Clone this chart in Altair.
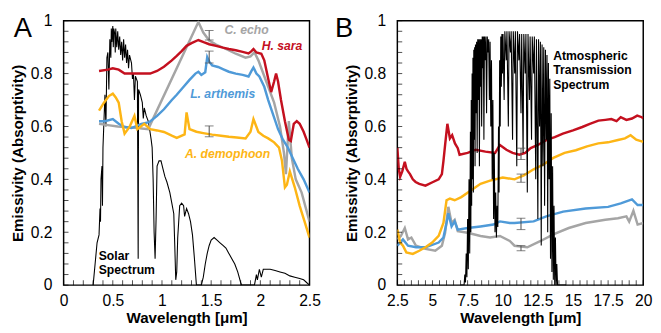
import altair as alt
import pandas as pd

# ---------------- Panel A (0 - 2.5 um) ----------------
solar_lam = [0.30, 0.32, 0.34, 0.36, 0.37, 0.375, 0.38, 0.39, 0.395, 0.40, 0.42, 0.43, 0.44, 0.45,
             0.46, 0.47, 0.48, 0.485, 0.49, 0.50, 0.505, 0.51, 0.52, 0.525, 0.53, 0.54, 0.55,
             0.56, 0.57, 0.58, 0.59, 0.60, 0.61, 0.62, 0.63, 0.64, 0.65, 0.66, 0.67, 0.69, 0.70,
             0.71, 0.72, 0.73, 0.75, 0.758, 0.762, 0.78, 0.80, 0.81, 0.82, 0.84, 0.86, 0.87,
             0.89, 0.90, 0.91, 0.92, 0.93, 0.94, 0.95, 0.97, 0.99, 1.01, 1.03, 1.05, 1.08, 1.10,
             1.12, 1.13, 1.14, 1.15, 1.16, 1.17, 1.18, 1.20, 1.22, 1.23, 1.25, 1.27, 1.29, 1.31,
             1.33, 1.35, 1.40, 1.42, 1.44, 1.46, 1.48, 1.50, 1.53, 1.56, 1.59, 1.62, 1.65, 1.68,
             1.71, 1.74, 1.77, 1.80, 1.81, 1.94, 1.96, 1.97, 1.99, 2.01, 2.03, 2.06, 2.10, 2.15,
             2.20, 2.25, 2.30, 2.35, 2.40, 2.44, 2.47, 2.50]
solar_val = [0.00, 0.08, 0.16, 0.19, 0.29, 0.24, 0.40, 0.45, 0.30, 0.52, 0.72, 0.60, 0.86, 0.88,
             0.74, 0.93, 0.86, 0.97, 0.92, 0.98, 0.90, 0.97, 0.95, 0.88, 0.97, 0.90, 0.96,
             0.89, 0.94, 0.87, 0.92, 0.85, 0.93, 0.86, 0.91, 0.84, 0.89, 0.82, 0.87, 0.84, 0.78,
             0.80, 0.70, 0.79, 0.77, 0.10, 0.74, 0.72, 0.69, 0.63, 0.67, 0.64, 0.62, 0.60,
             0.55, 0.52, 0.40, 0.20, 0.10, 0.25, 0.45, 0.47, 0.47, 0.44, 0.41, 0.39, 0.35, 0.31,
             0.27, 0.15, 0.02, 0.05, 0.18, 0.24, 0.30, 0.31, 0.30, 0.26, 0.29, 0.27, 0.24, 0.19,
             0.10, 0.00, 0.00, 0.03, 0.08, 0.12, 0.15, 0.17, 0.18, 0.17, 0.16, 0.15, 0.14, 0.12,
             0.10, 0.08, 0.05, 0.01, 0.00, 0.00, 0.04, 0.02, 0.06, 0.03, 0.06, 0.06, 0.06, 0.055,
             0.05, 0.045, 0.035, 0.03, 0.025, 0.02, 0.01, 0.00]

echo_lam_a = [0.36, 0.45, 0.55, 0.65, 0.75, 0.86, 1.37, 1.42, 1.48, 1.55, 1.65, 1.75, 1.85, 1.90,
              1.94, 1.98, 2.06, 2.14, 2.20, 2.24, 2.26, 2.29, 2.32, 2.36, 2.42, 2.50]
echo_val_a = [0.61, 0.605, 0.60, 0.597, 0.594, 0.59, 0.995, 0.955, 0.925, 0.91, 0.893, 0.875, 0.86,
              0.865, 0.88, 0.85, 0.77, 0.69, 0.60, 0.50, 0.42, 0.62, 0.48, 0.40, 0.35, 0.24]

sara_lam_a = [0.36, 0.45, 0.50, 0.56, 0.62, 0.70, 0.78, 0.88, 0.95, 1.02, 1.10, 1.15, 1.20, 1.25,
              1.30, 1.37, 1.43, 1.48, 1.55, 1.62, 1.68, 1.75, 1.82, 1.88, 1.91, 1.93, 1.96, 2.01,
              2.04, 2.08, 2.11, 2.14, 2.16, 2.18, 2.21, 2.25, 2.29, 2.31, 2.34, 2.37, 2.40, 2.44,
              2.47, 2.50]
sara_val_a = [0.81, 0.815, 0.82, 0.815, 0.80, 0.80, 0.80, 0.80, 0.81, 0.826, 0.85, 0.867, 0.885,
              0.905, 0.915, 0.927, 0.918, 0.911, 0.905, 0.898, 0.893, 0.888, 0.882, 0.876, 0.885,
              0.893, 0.88, 0.875, 0.85, 0.78, 0.73, 0.77, 0.80, 0.77, 0.70, 0.62, 0.55, 0.545,
              0.61, 0.62, 0.61, 0.58, 0.55, 0.52]

arth_lam_a = [0.36, 0.42, 0.50, 0.56, 0.62, 0.69, 0.79, 0.87, 0.95, 1.02, 1.10, 1.15, 1.22, 1.28,
              1.34, 1.37, 1.40, 1.44, 1.46, 1.48, 1.51, 1.57, 1.63, 1.68, 1.75, 1.82, 1.88, 1.91,
              1.93, 1.96, 1.99, 2.04, 2.08, 2.13, 2.18, 2.23, 2.28, 2.33, 2.38, 2.44, 2.50]
arth_val_a = [0.62, 0.62, 0.628, 0.61, 0.598, 0.594, 0.61, 0.616, 0.64, 0.665, 0.70, 0.72, 0.75,
              0.776, 0.80, 0.807, 0.795, 0.805, 0.862, 0.845, 0.831, 0.825, 0.815, 0.807, 0.80,
              0.795, 0.789, 0.81, 0.823, 0.80, 0.789, 0.75, 0.70, 0.645, 0.59, 0.55, 0.52, 0.48,
              0.44, 0.40, 0.35]

demo_lam_a = [0.36, 0.41, 0.46, 0.50, 0.53, 0.56, 0.59, 0.62, 0.67, 0.72, 0.75, 0.82, 0.88, 0.95,
              1.02, 1.10, 1.15, 1.23, 1.25, 1.28, 1.35, 1.42, 1.51, 1.60, 1.68, 1.76, 1.85, 1.90,
              1.93, 1.98, 2.03, 2.08, 2.14, 2.19, 2.22, 2.25, 2.27, 2.30, 2.35, 2.40, 2.45, 2.50]
demo_val_a = [0.66, 0.69, 0.715, 0.724, 0.71, 0.69, 0.62, 0.573, 0.598, 0.64, 0.59, 0.61, 0.59,
              0.585, 0.579, 0.565, 0.557, 0.57, 0.653, 0.59, 0.58, 0.575, 0.569, 0.565, 0.561,
              0.558, 0.555, 0.58, 0.628, 0.579, 0.565, 0.555, 0.54, 0.52, 0.47, 0.37, 0.38, 0.43,
              0.37, 0.30, 0.24, 0.18]

bar_lam_a = [1.48, 1.48, 1.48]
bar_lo_a = [0.927, 0.84, 0.561]
bar_hi_a = [0.963, 0.885, 0.602]

# ---------------- Panel B (2.5 - 20 um) ----------------
atm_lam = [7.00, 7.25, 7.30, 7.35, 7.40, 7.45, 7.50, 7.55, 7.60, 7.65, 7.70, 7.73, 7.76, 7.79,
           7.82, 7.85, 7.88, 7.91, 7.94, 7.97, 8.00, 8.03, 8.06, 8.10, 8.14, 8.18, 8.22, 8.26,
           8.30, 8.34, 8.38, 8.42, 8.46, 8.50, 8.54, 8.58, 8.62, 8.66, 8.70, 8.75, 8.80, 8.85,
           8.90, 8.95, 9.00, 9.05, 9.10, 9.15, 9.20, 9.25, 9.30, 9.35, 9.40, 9.45, 9.50, 9.55,
           9.60, 9.65, 9.70, 9.74, 9.78, 9.82, 9.86, 9.90, 9.94, 9.98, 10.02, 10.10, 10.15,
           10.25, 10.30, 10.40, 10.45, 10.55, 10.60, 10.70, 10.75, 10.85, 10.90, 11.00, 11.05,
           11.15, 11.20, 11.30, 11.35, 11.45, 11.50, 11.60, 11.65, 11.75, 11.80, 11.90, 11.95,
           12.05, 12.10, 12.20, 12.25, 12.35, 12.40, 12.50, 12.55, 12.62, 12.68, 12.74, 12.80,
           12.86, 12.92, 12.98, 13.04, 13.10, 13.15, 13.20, 13.25, 13.30, 13.35, 13.40, 13.45,
           13.50, 13.55, 13.60, 13.65, 13.70, 13.75, 13.80, 13.85, 13.90, 14.50]
atm_val = [0.00, 0.00, 0.04, 0.01, 0.12, 0.03, 0.25, 0.06, 0.40, 0.12, 0.58, 0.20, 0.70, 0.30,
           0.80, 0.40, 0.86, 0.35, 0.89, 0.55, 0.90, 0.45, 0.91, 0.65, 0.92, 0.50, 0.93, 0.70,
           0.93, 0.45, 0.93, 0.75, 0.93, 0.60, 0.94, 0.82, 0.94, 0.55, 0.94, 0.85, 0.94, 0.65,
           0.94, 0.88, 0.93, 0.70, 0.92, 0.60, 0.85, 0.40, 0.70, 0.25, 0.50, 0.20, 0.35, 0.18,
           0.30, 0.22, 0.60, 0.35, 0.85, 0.60, 0.94, 0.75, 0.95, 0.80, 0.95, 0.70, 0.96,
           0.85, 0.96, 0.60, 0.96, 0.88, 0.96, 0.55, 0.96, 0.80, 0.96, 0.45, 0.96,
           0.85, 0.95, 0.65, 0.95, 0.50, 0.95, 0.80, 0.95, 0.35, 0.95, 0.70, 0.94,
           0.55, 0.94, 0.80, 0.94, 0.40, 0.93, 0.25, 0.93, 0.60, 0.92, 0.15, 0.91,
           0.45, 0.90, 0.30, 0.89, 0.55, 0.87, 0.20, 0.84, 0.40, 0.78, 0.10, 0.65,
           0.05, 0.45, 0.02, 0.30, 0.00, 0.18, 0.00, 0.08, 0.00, 0.00]

sara_lam_b = [2.5, 2.6, 2.7, 2.85, 3.03, 3.15, 3.26, 3.4, 3.6, 3.8, 4.06, 4.5, 5.0, 5.44, 5.67,
              5.78, 5.9, 6.06, 6.24, 6.4, 6.6, 6.8, 6.93, 7.5, 8.08, 8.77, 9.46, 9.8, 10.26, 10.7,
              11.18, 11.6, 11.99, 12.5, 13.13, 13.7, 14.28, 15.0, 15.66, 16.2, 16.81, 17.3, 17.73,
              18.1, 18.4, 18.8, 19.2, 19.57, 19.9, 20.0]
sara_val_b = [0.52, 0.44, 0.41, 0.43, 0.466, 0.44, 0.43, 0.42, 0.40, 0.39, 0.383, 0.376, 0.389,
              0.40, 0.42, 0.469, 0.53, 0.61, 0.555, 0.567, 0.536, 0.518, 0.493, 0.50, 0.512, 0.505,
              0.50, 0.53, 0.512, 0.50, 0.493, 0.50, 0.518, 0.53, 0.549, 0.56, 0.573, 0.585, 0.598,
              0.61, 0.622, 0.625, 0.628, 0.62, 0.635, 0.625, 0.63, 0.641, 0.635, 0.63]

demo_lam_b = [2.5, 2.7, 2.9, 3.14, 3.6, 4.06, 4.5, 4.98, 5.44, 5.78, 6.0, 6.24, 6.58, 7.05, 7.73,
              8.42, 9.1, 10.0, 10.84, 11.5, 12.2, 12.9, 13.6, 14.4, 15.2, 16.0, 16.8, 17.5, 18.2,
              18.7, 19.1, 19.5, 20.0]
demo_val_b = [0.21, 0.161, 0.149, 0.124, 0.118, 0.13, 0.143, 0.161, 0.186, 0.235, 0.321, 0.327,
              0.321, 0.333, 0.358, 0.383, 0.395, 0.407, 0.40, 0.415, 0.438, 0.456, 0.481, 0.50,
              0.51, 0.525, 0.536, 0.54, 0.549, 0.555, 0.567, 0.55, 0.542]

arth_lam_b = [2.5, 2.9, 3.26, 3.83, 4.5, 5.44, 5.78, 6.0, 6.13, 6.36, 6.58, 6.8, 7.5, 8.42, 9.34,
              9.8, 10.5, 10.84, 12.2, 13.1, 14.3, 15.9, 17.5, 18.4, 19.2, 19.6, 20.0]
arth_val_b = [0.149, 0.173, 0.149, 0.143, 0.143, 0.161, 0.18, 0.235, 0.272, 0.222, 0.241, 0.21,
              0.216, 0.222, 0.229, 0.241, 0.235, 0.235, 0.241, 0.26, 0.278, 0.29, 0.296, 0.309,
              0.324, 0.303, 0.303]

echo_lam_b = [2.5, 2.75, 3.03, 3.26, 3.5, 3.83, 4.5, 5.2, 5.67, 5.9, 6.13, 6.36, 6.58, 6.8, 7.5,
              8.42, 9.1, 9.8, 10.5, 10.84, 11.75, 12.7, 13.6, 14.7, 15.9, 17.3, 18.2, 18.8, 19.0,
              19.3, 19.6, 20.0]
echo_val_b = [0.173, 0.186, 0.216, 0.173, 0.18, 0.149, 0.137, 0.13, 0.149, 0.198, 0.296, 0.235,
              0.247, 0.204, 0.198, 0.186, 0.18, 0.186, 0.167, 0.149, 0.143, 0.167, 0.192, 0.216,
              0.235, 0.247, 0.253, 0.26, 0.24, 0.281, 0.229, 0.235]

bar_lam_b = [11.3, 11.3, 11.3, 11.3]
bar_lo_b = [0.475, 0.389, 0.21, 0.13]
bar_hi_b = [0.518, 0.42, 0.253, 0.149]

# axis ticks / labels
y_ticks = [round(i * 0.04, 2) for i in range(26)]
y_labels = [0, 0.2, 0.4, 0.6, 0.8, 1]
xa_ticks = [round(i * 0.1, 1) for i in range(26)]
xa_labels = [0, 0.5, 1, 1.5, 2, 2.5]
xb_ticks = [round(2.5 + i * 0.5, 1) for i in range(36)]
xb_labels = [2.5, 5, 7.5, 10, 12.5, 15, 17.5, 20]

FONT = "Liberation Sans"
RED, BLUE, YEL, GRAY = "#c4101f", "#4f9ad8", "#fdb515", "#a5a5a5"
H = 271
TICK_COLOR = "black"
TICK_LEN = 5


def x_axis(labels):
    return alt.Axis(values=labels, labelExpr="format(datum.value, '')", ticks=False, tickSize=0,
                    domain=False, grid=False, labelPadding=8, labelFontSize=16, labelFont=FONT,
                    labelColor="black", labelFlush=False, labelOverlap=False,
                    title="Wavelength [μm]", titleFont=FONT, titleFontSize=15.5,
                    titleFontWeight="bold", titleColor="black", titlePadding=2)


def y_axis():
    return alt.Axis(values=y_labels, labelExpr="format(datum.value, '')", ticks=False, tickSize=0,
                    domain=False, grid=False, labelPadding=12, labelFontSize=16, labelFont=FONT,
                    labelColor="black", labelFlush=False, labelOverlap=False,
                    title="Emissivity (Absorptivity)", titleFont=FONT, titleFontSize=15.5,
                    titleFontWeight="bold", titleColor="black", titlePadding=5)


def panel(xdom, xticks, xlabels, curves, black, black_top, bars, texts, letter, letter_x, width):
    xs = alt.Scale(domain=xdom, nice=False, zero=False)
    ys = alt.Scale(domain=[0, 1], nice=False, zero=False)
    xax = x_axis(xlabels)
    yax = y_axis()

    def X(f):
        return alt.X(f"{f}:Q", scale=xs, axis=xax)

    def Y(f):
        return alt.Y(f"{f}:Q", scale=ys, axis=yax)

    def line(lam, val, color, w):
        df = pd.DataFrame({"lam": lam, "v": val, "i": list(range(len(lam)))})
        return alt.Chart(df).mark_line(color=color, strokeWidth=w, clip=True).encode(
            x=X("lam"), y=Y("v"), order="i:Q")

    colored = [line(l, v, c, 2.5) for (l, v, c) in curves]
    blk = line(black[0], black[1], "black", 1.1)
    layers = colored + [blk] if black_top else [blk] + colored

    bdf = pd.DataFrame({"lam": bars[0], "lo": bars[1], "hi": bars[2]})
    rule = alt.Chart(bdf).mark_rule(color="#4a4a4a", strokeWidth=1).encode(
        x=X("lam"), y=Y("lo"), y2="hi:Q")
    cap_lo = alt.Chart(bdf).mark_tick(color="#4a4a4a", orient="horizontal", size=9,
                                      thickness=1).encode(x=X("lam"), y=Y("lo"))
    cap_hi = alt.Chart(bdf).mark_tick(color="#4a4a4a", orient="horizontal", size=9,
                                      thickness=1).encode(x=X("lam"), y=Y("hi"))
    layers += [rule, cap_lo, cap_hi]

    # inward tick marks along the bottom and left edges of the frame
    xt = pd.DataFrame({"lam": xticks})
    layers.append(alt.Chart(xt).mark_tick(color=TICK_COLOR, orient="vertical", size=TICK_LEN,
                                          thickness=1).encode(
        x=X("lam"), y=alt.value(H - TICK_LEN / 2)))
    yt = pd.DataFrame({"v": y_ticks})
    layers.append(alt.Chart(yt).mark_tick(color=TICK_COLOR, orient="horizontal", size=TICK_LEN,
                                          thickness=1).encode(
        y=Y("v"), x=alt.value(TICK_LEN / 2)))

    for (tlam, tv, txt, color, style, align) in texts:
        tdf = pd.DataFrame({"lam": [tlam], "v": [tv], "t": [txt]})
        layers.append(alt.Chart(tdf).mark_text(font=FONT, fontSize=12.5, fontWeight="bold",
                                               fontStyle=style, color=color, align=align,
                                               baseline="middle").encode(
            x=X("lam"), y=Y("v"), text="t:N"))

    ldf = pd.DataFrame({"t": [letter]})
    layers.append(alt.Chart(ldf).mark_text(font=FONT, fontSize=28, color="black", align="left",
                                           baseline="alphabetic").encode(
        x=alt.value(letter_x), y=alt.value(17), text="t:N"))

    return alt.layer(*layers).properties(width=width, height=H)


panel_a = panel(
    [0, 2.5], xa_ticks, xa_labels,
    [(echo_lam_a, echo_val_a, GRAY), (arth_lam_a, arth_val_a, BLUE),
     (demo_lam_a, demo_val_a, YEL), (sara_lam_a, sara_val_a, RED)],
    (solar_lam, solar_val), False,
    (bar_lam_a, bar_lo_a, bar_hi_a),
    [(1.86, 0.963, "C. echo", GRAY, "italic", "center"),
     (2.22, 0.904, "H. sara", RED, "italic", "center"),
     (1.617, 0.723, "L. arthemis", BLUE, "italic", "center"),
     (1.667, 0.494, "A. demophoon", YEL, "italic", "center"),
     (0.357, 0.111, "Solar", "black", "normal", "left"),
     (0.357, 0.055, "Spectrum", "black", "normal", "left")],
    "A", -51, 252)

panel_b = panel(
    [2.5, 20], xb_ticks, xb_labels,
    [(echo_lam_b, echo_val_b, GRAY), (arth_lam_b, arth_val_b, BLUE),
     (demo_lam_b, demo_val_b, YEL), (sara_lam_b, sara_val_b, RED)],
    (atm_lam, atm_val), True,
    (bar_lam_b, bar_lo_b, bar_hi_b),
    [(13.59, 0.867, "Atmospheric", "black", "normal", "left"),
     (13.59, 0.812, "Transmission", "black", "normal", "left"),
     (13.59, 0.756, "Spectrum", "black", "normal", "left")],
    "B", -64, 252)

chart = alt.hconcat(panel_a, panel_b, spacing=13).properties(
    padding={"left": 2, "top": 0, "right": 0, "bottom": 0},
    background="white",
).configure_view(stroke="black", strokeWidth=1.5)

chart.save("out.html", embed_options={"renderer": "svg", "actions": False})
